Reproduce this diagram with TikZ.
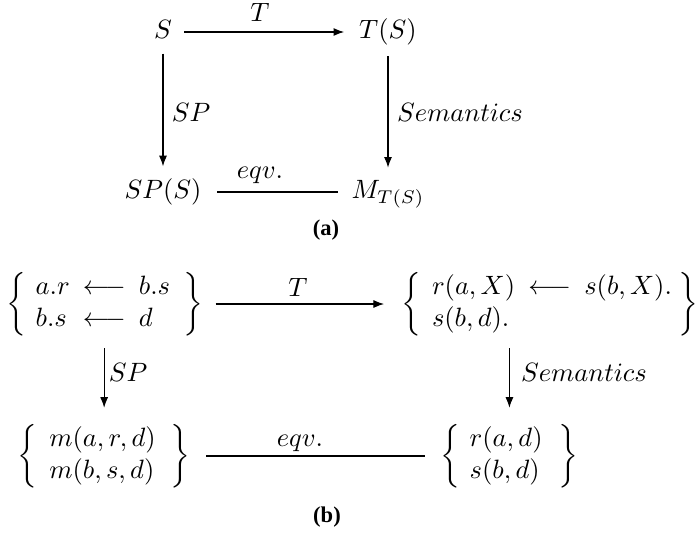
\documentclass[tikz,border=0pt]{standalone}
\usepackage{fontspec}
\newfontfamily\capfont[BoldFont={Liberation Serif Bold}]{Liberation Serif}
\usetikzlibrary{arrows.meta}
\begin{document}
\begin{tikzpicture}[x=0.3774pt,y=-0.3774pt,
  obj/.style={inner sep=0pt, text height=8pt, text depth=3pt},
  setbox/.style={inner sep=0pt, anchor=west},
  arr/.style={-{Latex[length=4pt,width=3pt]}},
  lbl/.style={inner sep=0pt},
  captext/.style={inner sep=0pt}]
\useasboundingbox (0,0) rectangle (699,533);
% ---- (a) ----
\node[obj] (S) at (163,32) {$S$};
\node[obj] (TS) at (388,32) {$T(S)$};
\node[obj] (SPS) at (163,192) {$SP(S)$};
\node[obj] (M) at (388,192) {$M_{T(S)}$};
\draw[arr, shorten <=4.5pt, shorten >=5.5pt] (S.east) -- (TS.west);
\draw[arr, shorten <=2.5pt, shorten >=4pt] (S.south) -- (SPS.north);
\draw[arr, shorten <=3.5pt, shorten >=3.5pt] (TS.south) -- (M.north);
\draw[shorten <=5.7pt, shorten >=5pt] (SPS.east) -- (M.west);
\node[lbl] (lT) at (260,12) {$T$};
\node[lbl] (lSP) at (191,112) {$SP$};
\node[lbl] (lSem) at (460,112) {$Semantics$};
\node[lbl] (leqv) at (260,175) {$eqv.$};
\node[captext] (capa) at (326,230) {\capfont\bfseries\fontsize{8.5}{10}\selectfont (a)};
% ---- (b) ----
\node[setbox] (L1) at (6,304) {$\left\{\begin{array}{@{\hspace{3.5pt}}l@{\hspace{5pt}}c@{\hspace{5pt}}l@{\hspace{5pt}}} a.r & \longleftarrow & b.s\\ b.s & \longleftarrow & d\end{array}\right\}$};
\node[setbox] (R1) at (401,304) {$\left\{\begin{array}{@{\hspace{4pt}}l@{\hspace{5pt}}c@{\hspace{5pt}}l@{\hspace{2.5pt}}} r(a,X) & \longleftarrow & s(b,X).\\ s(b,d). & & \end{array}\right\}$};
\node[setbox] (L2) at (17,456) {$\left\{\begin{array}{@{\hspace{4.5pt}}l@{\hspace{5.7pt}}} m(a,r,d)\\ m(b,s,d)\end{array}\right\}$};
\node[setbox] (R2) at (440,456) {$\left\{\begin{array}{@{\hspace{3.5pt}}l@{\hspace{6pt}}} r(a,d)\\ s(b,d)\end{array}\right\}$};
\draw[arr, shorten <=4.5pt, shorten >=6.4pt] (L1.east) -- (R1.west);
\draw[arr, shorten <=4.5pt, shorten >=6pt] (L1.south -| L2.north) -- (L2.north);
\draw[arr, shorten <=4.5pt, shorten >=6pt] (R1.south -| R2.north) -- (R2.north);
\draw[shorten <=5.7pt, shorten >=5.7pt] (L2.east) -- (R2.west);
\node[lbl] (lT2) at (298,287) {$T$};
\node[lbl] (lSP2) at (128,372) {$SP$};
\node[lbl] (lSem2) at (584,372) {$Semantics$};
\node[lbl] (leqv2) at (300,443) {$eqv.$};
\node[captext] (capb) at (327,517) {\capfont\bfseries\fontsize{8.5}{10}\selectfont (b)};
\end{tikzpicture}
\end{document}
